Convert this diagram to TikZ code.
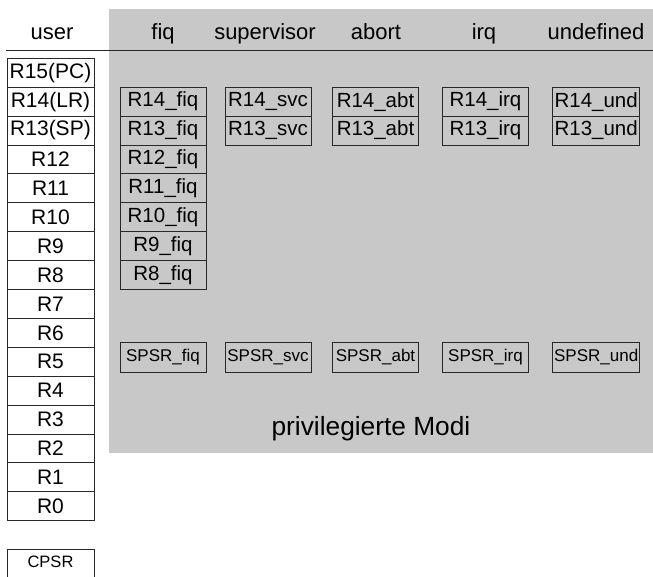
\documentclass[tikz,border=0pt]{standalone}
\usepackage{fontspec}
\setmainfont{Liberation Sans}
\definecolor{privgray}{RGB}{200,200,200}
\definecolor{linegray}{RGB}{40,40,40}
\begin{document}
\begin{tikzpicture}[x=1pt,y=-1pt,
  reg/.style={draw=linegray, line width=0.9pt, minimum width=87pt, minimum height=28.9pt, inner sep=0pt, font=\fontsize{21}{24}\selectfont},
  mreg/.style={reg, minimum width=86pt, font=\fontsize{20.5}{24}\selectfont},
  spsr/.style={draw=linegray, line width=0.9pt, minimum width=86pt, minimum height=29.7pt, inner sep=0pt, font=\fontsize{17}{20}\selectfont},
  hdr/.style={anchor=base, inner sep=0pt, font=\fontsize{22}{26}\selectfont},
]
\useasboundingbox (0,0) rectangle (653,576);
% privileged modes background
\fill[privgray] (109,9) rectangle (653,452.7);
% header line
\coordinate (hl) at (6,50.3);
\coordinate (hr) at (653,50.3);
\draw[linegray, line width=0.9pt] (hl) -- (hr);
% headers
\node[hdr] (huser) at (52,39.5) {user};
\node[hdr] (hfiq) at (163,39.5) {fiq};
\node[hdr] (hsvc) at (265,39.5) {supervisor};
\node[hdr] (habt) at (376,39.5) {abort};
\node[hdr] (hirq) at (484,39.5) {irq};
\node[hdr] (hund) at (596,39.5) {undefined};
% user registers
\foreach \lab [count=\i from 0] in {R15(PC),R14(LR),R13(SP),R12,R11,R10,R9,R8,R7,R6,R5,R4,R3,R2,R1,R0}
  \node[reg] (u\i) at (50.5,{58.3+28.9*(\i+0.5)}) {\lab};
% fiq registers
\foreach \lab [count=\i from 1] in {R14\_fiq,R13\_fiq,R12\_fiq,R11\_fiq,R10\_fiq,R9\_fiq,R8\_fiq}
  \node[mreg] (f\i) at (163,{58.3+28.9*(\i+0.5)}) {\lab};
% svc
\node[mreg] (s1) at (268,{58.3+28.9*1.5}) {R14\_svc};
\node[mreg] (s2) at (268,{58.3+28.9*2.5}) {R13\_svc};
% abt
\node[mreg] (a1) at (375.5,{58.3+28.9*1.5}) {R14\_abt};
\node[mreg] (a2) at (375.5,{58.3+28.9*2.5}) {R13\_abt};
% irq
\node[mreg] (i1) at (485.5,{58.3+28.9*1.5}) {R14\_irq};
\node[mreg] (i2) at (485.5,{58.3+28.9*2.5}) {R13\_irq};
% und
\node[mreg, minimum width=87pt] (d1) at (596.2,{58.3+28.9*1.5}) {R14\_und};
\node[mreg, minimum width=87pt] (d2) at (596.2,{58.3+28.9*2.5}) {R13\_und};
% SPSRs
\node[spsr] (pf) at (163,357.2) {SPSR\_fiq};
\node[spsr] (ps) at (268,357.2) {SPSR\_svc};
\node[spsr] (pa) at (375.5,357.2) {SPSR\_abt};
\node[spsr] (pi) at (485.5,357.2) {SPSR\_irq};
\node[spsr, minimum width=87pt] (pd) at (596.2,357.2) {SPSR\_und};
% label
\node[anchor=base, inner sep=0pt, font=\fontsize{26.3}{30}\selectfont] (priv) at (371,435.7) {privilegierte Modi};
% CPSR
\node[draw=linegray, line width=0.9pt, minimum width=87pt, minimum height=29pt, inner sep=0pt] (cpsr) at (50.5,563.8) {};
\node[inner sep=0pt, font=\fontsize{16.5}{20}\selectfont] (cpsrt) at (50.5,561.7) {CPSR};
\end{tikzpicture}
\end{document}
